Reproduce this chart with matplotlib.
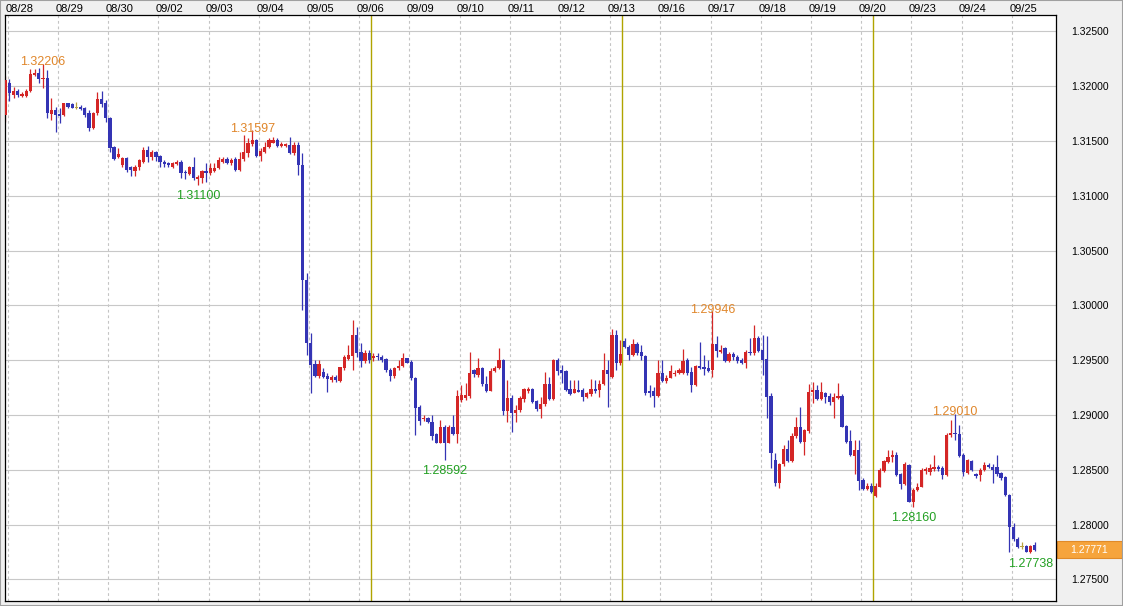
import matplotlib
matplotlib.use('Agg')
import numpy as np
import matplotlib.pyplot as plt
from matplotlib.patches import Rectangle
from matplotlib.transforms import blended_transform_factory, ScaledTranslation

plt.rcParams['font.family'] = ['Liberation Sans', 'DejaVu Sans']

# day labels along the top (2-hour candles, 12 per day)
dates = ['08/28', '08/29', '08/30', '09/02', '09/03', '09/04', '09/05', '09/06',
         '09/09', '09/10', '09/11', '09/12', '09/13', '09/16', '09/17', '09/18',
         '09/19', '09/20', '09/23', '09/24', '09/25']

opens = [
    1.31736, 1.32031, 1.31919, 1.31958, 1.31914, 1.31912, 1.31958, 1.32101, 1.32122, 1.32062,
    1.32071, 1.31746, 1.31782, 1.31746, 1.31736, 1.31843, 1.31834, 1.31803, 1.31812, 1.31798,
    1.31752, 1.31615, 1.31752, 1.31880, 1.31843, 1.31706, 1.31442, 1.31356, 1.31280, 1.31341,
    1.31265, 1.31228, 1.31259, 1.31310, 1.31417, 1.31356, 1.31402, 1.31365, 1.31305, 1.31296,
    1.31265, 1.31289, 1.31310, 1.31219, 1.31198, 1.31265, 1.31150, 1.31159, 1.31225, 1.31210,
    1.31228, 1.31250, 1.31310, 1.31335, 1.31301, 1.31332, 1.31235, 1.31332, 1.31392, 1.31472,
    1.31508, 1.31362, 1.31402, 1.31442, 1.31484, 1.31508, 1.31453, 1.31453, 1.31463, 1.31387,
    1.31463, 1.31280, 1.30231, 1.29653, 1.29464, 1.29355, 1.29394, 1.29355, 1.29319, 1.29349,
    1.29312, 1.29425, 1.29507, 1.29537, 1.29729, 1.29571, 1.29492, 1.29562, 1.29522, 1.29537,
    1.29526, 1.29507, 1.29410, 1.29355, 1.29425, 1.29446, 1.29516, 1.29485, 1.29339, 1.29075,
    1.28960, 1.28974, 1.28938, 1.28823, 1.28746, 1.28892, 1.28746, 1.28892, 1.28823, 1.29136,
    1.29151, 1.29172, 1.29410, 1.29364, 1.29425, 1.29282, 1.29221, 1.29401, 1.29425, 1.29501,
    1.29036, 1.29151, 1.29015, 1.29045, 1.29142, 1.29218, 1.29233, 1.29127, 1.29054, 1.29097,
    1.29279, 1.29145, 1.29501, 1.29410, 1.29401, 1.29233, 1.29203, 1.29227, 1.29227, 1.29166,
    1.29191, 1.29236, 1.29227, 1.29279, 1.29410, 1.29349, 1.29729, 1.29471, 1.29674, 1.29619,
    1.29547, 1.29644, 1.29577, 1.29537, 1.29218, 1.29218, 1.29175, 1.29380, 1.29309, 1.29339,
    1.29373, 1.29380, 1.29385, 1.29501, 1.29394, 1.29273, 1.29446, 1.29440, 1.29425, 1.29410,
    1.29647, 1.29577, 1.29608, 1.29495, 1.29556, 1.29526, 1.29501, 1.29476, 1.29577, 1.29562,
    1.29704, 1.29592, 1.29507, 1.29172, 1.28588, 1.28381, 1.28549, 1.28689, 1.28582, 1.28807,
    1.28892, 1.28755, 1.28856, 1.29206, 1.29227, 1.29142, 1.29197, 1.29172, 1.29115, 1.29154,
    1.29172, 1.28899, 1.28758, 1.28628, 1.28680, 1.28406, 1.28321, 1.28351, 1.28260, 1.28345,
    1.28491, 1.28573, 1.28613, 1.28634, 1.28461, 1.28370, 1.28543, 1.28208, 1.28315, 1.28345,
    1.28491, 1.28482, 1.28504, 1.28522, 1.28513, 1.28452, 1.28817, 1.28838, 1.28826, 1.28634,
    1.28467, 1.28582, 1.28458, 1.28452, 1.28497, 1.28543, 1.28528, 1.28528, 1.28467, 1.28437,
    1.28269, 1.27980, 1.27865, 1.27797, 1.27804, 1.27752, 1.27813]

highs = [
    1.32092, 1.32062, 1.31995, 1.31971, 1.31949, 1.31971, 1.32153, 1.32153, 1.32162, 1.32206,
    1.32147, 1.31889, 1.31812, 1.31798, 1.31849, 1.31849, 1.31843, 1.31852, 1.31828, 1.31812,
    1.31782, 1.31767, 1.31949, 1.31958, 1.31873, 1.31721, 1.31453, 1.31433, 1.31350, 1.31350,
    1.31271, 1.31280, 1.31338, 1.31442, 1.31453, 1.31417, 1.31411, 1.31374, 1.31326, 1.31310,
    1.31310, 1.31326, 1.31326, 1.31235, 1.31271, 1.31356, 1.31189, 1.31235, 1.31296, 1.31296,
    1.31296, 1.31350, 1.31350, 1.31350, 1.31341, 1.31350, 1.31402, 1.31554, 1.31524, 1.31597,
    1.31515, 1.31433, 1.31493, 1.31524, 1.31538, 1.31524, 1.31493, 1.31481, 1.31538, 1.31493,
    1.31493, 1.31387, 1.30292, 1.29745, 1.29501, 1.29501, 1.29425, 1.29380, 1.29364, 1.29364,
    1.29440, 1.29547, 1.29638, 1.29866, 1.29802, 1.29653, 1.29592, 1.29592, 1.29565, 1.29562,
    1.29547, 1.29516, 1.29425, 1.29440, 1.29501, 1.29562, 1.29519, 1.29501, 1.29349, 1.29090,
    1.28999, 1.28984, 1.28999, 1.28832, 1.28953, 1.28908, 1.28908, 1.28999, 1.29227, 1.29272,
    1.29291, 1.29574, 1.29419, 1.29516, 1.29437, 1.29355, 1.29428, 1.29446, 1.29610, 1.29510,
    1.29319, 1.29181, 1.29090, 1.29172, 1.29248, 1.29254, 1.29245, 1.29136, 1.29166, 1.29394,
    1.29349, 1.29510, 1.29519, 1.29455, 1.29410, 1.29319, 1.29319, 1.29319, 1.29245, 1.29209,
    1.29328, 1.29319, 1.29319, 1.29562, 1.29501, 1.29784, 1.29775, 1.29684, 1.29699, 1.29638,
    1.29692, 1.29665, 1.29638, 1.29547, 1.29272, 1.29257, 1.29501, 1.29501, 1.29364, 1.29455,
    1.29410, 1.29428, 1.29601, 1.29519, 1.29437, 1.29455, 1.29662, 1.29547, 1.29501, 1.29946,
    1.29723, 1.29638, 1.29622, 1.29574, 1.29577, 1.29547, 1.29516, 1.29592, 1.29699, 1.29818,
    1.29720, 1.29729, 1.29720, 1.29200, 1.28650, 1.28561, 1.28725, 1.28771, 1.28835, 1.28984,
    1.29075, 1.28871, 1.29282, 1.29297, 1.29272, 1.29303, 1.29209, 1.29200, 1.29200, 1.29291,
    1.29191, 1.28908, 1.28862, 1.28771, 1.28771, 1.28424, 1.28379, 1.28379, 1.28379, 1.28516,
    1.28588, 1.28680, 1.28680, 1.28661, 1.28470, 1.28570, 1.28552, 1.28333, 1.28379, 1.28516,
    1.28525, 1.28552, 1.28634, 1.28543, 1.28534, 1.28835, 1.28953, 1.29010, 1.28908, 1.28652,
    1.28598, 1.28588, 1.28470, 1.28516, 1.28570, 1.28561, 1.28552, 1.28634, 1.28479, 1.28443,
    1.28278, 1.28014, 1.27886, 1.27840, 1.27813, 1.27813, 1.27840]

lows = [
    1.31673, 1.31867, 1.31889, 1.31903, 1.31903, 1.31903, 1.31949, 1.32092, 1.32026, 1.31980,
    1.31706, 1.31691, 1.31584, 1.31661, 1.31727, 1.31803, 1.31798, 1.31794, 1.31782, 1.31721,
    1.31593, 1.31609, 1.31736, 1.31812, 1.31675, 1.31402, 1.31326, 1.31341, 1.31265, 1.31219,
    1.31183, 1.31183, 1.31235, 1.31296, 1.31310, 1.31326, 1.31317, 1.31265, 1.31265, 1.31265,
    1.31250, 1.31280, 1.31162, 1.31150, 1.31189, 1.31143, 1.31100, 1.31113, 1.31128, 1.31189,
    1.31219, 1.31241, 1.31301, 1.31289, 1.31280, 1.31225, 1.31228, 1.31320, 1.31350, 1.31453,
    1.31356, 1.31320, 1.31387, 1.31433, 1.31478, 1.31442, 1.31447, 1.31444, 1.31381, 1.31371,
    1.31189, 1.29957, 1.29547, 1.29197, 1.29349, 1.29337, 1.29335, 1.29212, 1.29303, 1.29300,
    1.29303, 1.29410, 1.29500, 1.29410, 1.29531, 1.29440, 1.29474, 1.29474, 1.29492, 1.29501,
    1.29483, 1.29392, 1.29309, 1.29335, 1.29410, 1.29437, 1.29471, 1.29319, 1.28817, 1.28908,
    1.28944, 1.28923, 1.28771, 1.28741, 1.28741, 1.28592, 1.28744, 1.28817, 1.28744, 1.29118,
    1.29136, 1.29151, 1.29346, 1.29346, 1.29264, 1.29212, 1.29218, 1.29392, 1.29416, 1.28999,
    1.28935, 1.28844, 1.28938, 1.29027, 1.29121, 1.29200, 1.29109, 1.29036, 1.28969, 1.29081,
    1.29136, 1.29136, 1.29364, 1.29288, 1.29218, 1.29181, 1.29197, 1.29209, 1.29127, 1.29154,
    1.29176, 1.29200, 1.29164, 1.29273, 1.29075, 1.29337, 1.29410, 1.29455, 1.29608, 1.29501,
    1.29537, 1.29547, 1.29501, 1.29181, 1.29164, 1.29075, 1.29164, 1.29300, 1.29291, 1.29337,
    1.29355, 1.29373, 1.29373, 1.29364, 1.29212, 1.29264, 1.29419, 1.29364, 1.29392, 1.29349,
    1.29528, 1.29565, 1.29483, 1.29483, 1.29501, 1.29474, 1.29462, 1.29425, 1.29547, 1.29547,
    1.29574, 1.29364, 1.28972, 1.28516, 1.28351, 1.28333, 1.28534, 1.28570, 1.28570, 1.28789,
    1.28744, 1.28634, 1.28835, 1.29109, 1.29136, 1.29136, 1.29109, 1.29090, 1.28972, 1.29145,
    1.28889, 1.28744, 1.28625, 1.28461, 1.28315, 1.28315, 1.28315, 1.28287, 1.28251, 1.28342,
    1.28479, 1.28561, 1.28570, 1.28443, 1.28324, 1.28361, 1.28202, 1.28160, 1.28306, 1.28342,
    1.28461, 1.28452, 1.28488, 1.28488, 1.28415, 1.28443, 1.28798, 1.28771, 1.28616, 1.28443,
    1.28461, 1.28488, 1.28424, 1.28397, 1.28488, 1.28516, 1.28379, 1.28443, 1.28406, 1.28260,
    1.27749, 1.27849, 1.27786, 1.27776, 1.27749, 1.27738, 1.27758]

closes = [
    1.32056, 1.31934, 1.31955, 1.31919, 1.31928, 1.31958, 1.32110, 1.32122, 1.32062, 1.32071,
    1.31752, 1.31782, 1.31736, 1.31727, 1.31843, 1.31812, 1.31803, 1.31803, 1.31791, 1.31736,
    1.31615, 1.31752, 1.31880, 1.31834, 1.31706, 1.31438, 1.31335, 1.31378, 1.31341, 1.31235,
    1.31235, 1.31265, 1.31326, 1.31417, 1.31356, 1.31402, 1.31356, 1.31305, 1.31289, 1.31280,
    1.31296, 1.31310, 1.31210, 1.31204, 1.31265, 1.31159, 1.31173, 1.31228, 1.31210, 1.31250,
    1.31256, 1.31326, 1.31335, 1.31301, 1.31326, 1.31235, 1.31332, 1.31402, 1.31484, 1.31508,
    1.31362, 1.31411, 1.31447, 1.31508, 1.31508, 1.31453, 1.31472, 1.31472, 1.31387, 1.31463,
    1.31280, 1.30231, 1.29653, 1.29455, 1.29355, 1.29464, 1.29349, 1.29325, 1.29349, 1.29319,
    1.29434, 1.29526, 1.29547, 1.29729, 1.29562, 1.29492, 1.29562, 1.29501, 1.29537, 1.29526,
    1.29501, 1.29410, 1.29355, 1.29431, 1.29446, 1.29516, 1.29476, 1.29334, 1.29066, 1.28947,
    1.28974, 1.28938, 1.28810, 1.28746, 1.28892, 1.28746, 1.28892, 1.28823, 1.29172, 1.29181,
    1.29181, 1.29385, 1.29370, 1.29431, 1.29279, 1.29221, 1.29401, 1.29431, 1.29501, 1.29036,
    1.29151, 1.29015, 1.29045, 1.29151, 1.29233, 1.29233, 1.29121, 1.29054, 1.29097, 1.29279,
    1.29145, 1.29501, 1.29401, 1.29385, 1.29227, 1.29188, 1.29233, 1.29212, 1.29166, 1.29197,
    1.29236, 1.29221, 1.29282, 1.29410, 1.29373, 1.29729, 1.29471, 1.29556, 1.29617, 1.29547,
    1.29644, 1.29567, 1.29537, 1.29197, 1.29197, 1.29175, 1.29380, 1.29309, 1.29339, 1.29403,
    1.29385, 1.29410, 1.29495, 1.29385, 1.29273, 1.29446, 1.29431, 1.29416, 1.29403, 1.29647,
    1.29586, 1.29592, 1.29495, 1.29556, 1.29526, 1.29492, 1.29476, 1.29577, 1.29562, 1.29699,
    1.29586, 1.29501, 1.29166, 1.28650, 1.28381, 1.28552, 1.28689, 1.28582, 1.28807, 1.28892,
    1.28755, 1.28862, 1.29206, 1.29227, 1.29148, 1.29212, 1.29166, 1.29115, 1.29166, 1.29172,
    1.28892, 1.28755, 1.28634, 1.28680, 1.28400, 1.28321, 1.28351, 1.28299, 1.28351, 1.28497,
    1.28579, 1.28619, 1.28634, 1.28452, 1.28370, 1.28549, 1.28208, 1.28315, 1.28345, 1.28497,
    1.28504, 1.28513, 1.28522, 1.28504, 1.28452, 1.28817, 1.28838, 1.28826, 1.28625, 1.28476,
    1.28588, 1.28497, 1.28446, 1.28497, 1.28543, 1.28522, 1.28497, 1.28461, 1.28422, 1.28269,
    1.27980, 1.27865, 1.27797, 1.27797, 1.27752, 1.27804, 1.27771]

# labelled swing points: (candle index, 'high' or 'low')
marks = [(9, 'high'), (46, 'low'), (59, 'high'), (105, 'low'),
         (169, 'high'), (217, 'low'), (227, 'high'), (245, 'low')]

price_ticks = [1.275, 1.280, 1.285, 1.290, 1.295, 1.300, 1.305, 1.310, 1.315, 1.320, 1.325]

o = np.array(opens)
h = np.array(highs)
l = np.array(lows)
c = np.array(closes)
x = np.arange(len(c))

RED = '#d42626'
BLUE = '#3434b4'
DOJI = '#b8a040'
col = np.where(c > o, RED, np.where(c < o, BLUE, DOJI))

fig = plt.figure(figsize=(11.23, 6.06), dpi=100, facecolor='#f0f0f0')
ax = fig.add_axes([5 / 1123, 5 / 606, 1051.3 / 1123, 586 / 606])
ax.set_facecolor('white')
ax.set_xlim(-0.07, 251.2)
ax.set_ylim(1.27302, 1.32649)

# grid
day_x = np.arange(len(dates)) * 12 + 0.57
ax.vlines(day_x, 1.27302, 1.32649, colors='#c4c4c4', lw=0.8,
          linestyles=(0, (2.5, 2.5)), zorder=0)
ax.set_yticks(price_ticks)
ax.set_yticklabels(['%.5f' % v for v in price_ticks])
ax.yaxis.grid(True, color='#c8c8c8', lw=0.8)
ax.set_axisbelow(True)
for wx in [87.5, 147.5, 207.5]:
    ax.axvline(wx, color='#b0a400', lw=1.0, zorder=1)

# candles
ax.vlines(x, l, h, colors=col, lw=0.9, zorder=2)
body = np.maximum(np.abs(c - o), 0.00012)
ax.bar(x, body, bottom=(o + c) / 2 - body / 2, width=0.78, color=col,
       linewidth=0, zorder=3)

# axes styling
ax.set_xticks([])
ax.yaxis.tick_right()
ax.tick_params(axis='y', length=0, pad=11, labelsize=7.5, colors='black')
for s in ax.spines.values():
    s.set_color('black')
    s.set_linewidth(0.9)

# date labels in the header strip
hdr = blended_transform_factory(ax.transData, ax.transAxes)
shift = ScaledTranslation(-2.5 / 100, 2.5 / 100, fig.dpi_scale_trans)
for dx, d in zip(day_x, dates):
    ax.text(dx, 1.0, d, transform=hdr + shift, ha='left', va='baseline',
            fontsize=8, color='black', clip_on=False)

# swing labels
for i, kind in marks:
    if kind == 'high':
        ax.annotate('%.5f' % h[i], (x[i], h[i]), xytext=(0, -1.5),
                    textcoords='offset pixels', ha='center', va='baseline',
                    fontsize=9, color='#e0862a', zorder=5)
    else:
        ax.annotate('%.5f' % l[i], (x[i], l[i]), xytext=(0, -5),
                    textcoords='offset pixels', ha='center', va='top',
                    fontsize=9, color='#22a022', zorder=5)

# current price tag
tag = blended_transform_factory(ax.transAxes, ax.transData)
ax.add_patch(Rectangle((1.0006, c[-1] - 0.0008), 0.0618, 0.0016, transform=tag,
                       facecolor='#f6a43c', edgecolor='#e08a28', lw=0.8, clip_on=False))
ax.text(1.0314, c[-1], '%.5f' % c[-1], transform=tag, ha='center', va='center',
        fontsize=7.5, color='white', clip_on=False)

fig.add_artist(Rectangle((0, 0), 1, 1, transform=fig.transFigure, fill=False,
                         edgecolor='#a0a0a0', lw=1.5))

fig.savefig('out.png', dpi=100, facecolor=fig.get_facecolor())
